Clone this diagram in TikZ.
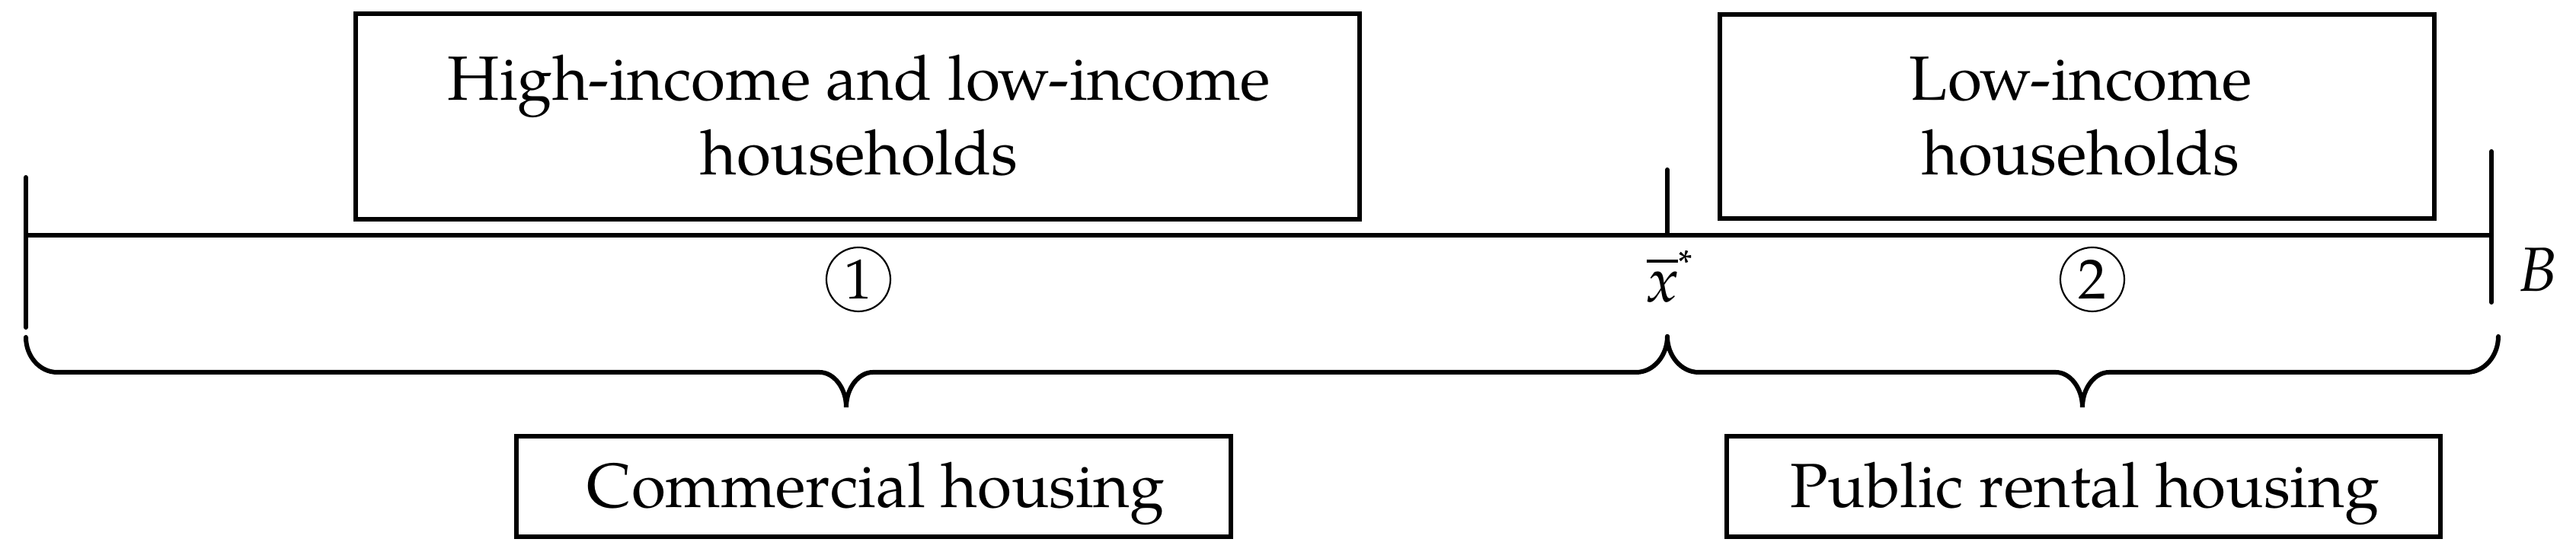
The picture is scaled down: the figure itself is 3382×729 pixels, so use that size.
\documentclass[tikz,border=0pt]{standalone}
\usepackage{fontspec}
\setmainfont{TeX Gyre Pagella}
\begin{document}
\begin{tikzpicture}[x=0.1pt,y=-0.1pt,
  boxnode/.style={draw,line width=0.6pt,inner sep=0pt},
  txt/.style={anchor=base,inner sep=0pt,font=\fontsize{8.2pt}{9.8pt}\selectfont},
  circnum/.style={draw,circle,line width=0.22pt,inner sep=0pt,minimum size=8.4pt,font=\fontsize{7.4pt}{8pt}\selectfont},
  axis/.style={line width=0.6pt,line cap=round},
  bracepath/.style={line width=0.6pt,line cap=round}]
\useasboundingbox (0,0) rectangle (3382,729);
% boxes
\node[boxnode,minimum width=131.8pt,minimum height=27pt] (hh) at (1126,153) {};
\node[txt] (hht1) at (1128,132) {High-income and low-income};
\node[txt] (hht2) at (1128,230) {households};
\node[boxnode,minimum width=93.8pt,minimum height=26.8pt] (lh) at (2727,153) {};
\node[txt] (lht1) at (2732,132) {Low-income};
\node[txt] (lht2) at (2732,230) {households};
\node[boxnode,minimum width=93.8pt,minimum height=13.2pt] (ch) at (1147,639) {};
\node[txt] (cht) at (1150,667) {Commercial housing};
\node[boxnode,minimum width=93.7pt,minimum height=13.2pt] (ph) at (2735.5,639) {};
\node[txt] (pht) at (2737,667) {Public rental housing};
% axis
\coordinate (L) at (34,309);
\coordinate (M) at (2189,309);
\coordinate (R) at (3271,309);
\coordinate (Ltop) at (34,233);
\coordinate (Lbot) at (34,430);
\coordinate (Mtop) at (2189,223);
\coordinate (Rtop) at (3271,199);
\coordinate (Rbot) at (3271,397);
\draw[axis] (L) -- (R);
\draw[axis] (Ltop) -- (Lbot);
\draw[axis] (Mtop) -- (M);
\draw[axis] (Rtop) -- (Rbot);
% labels
\node[circnum] (c1) at (1127,367) {1};
\node[circnum] (c2) at (2747,367) {2};
\node[txt,anchor=base west] (xs) at (2160,397) {$\overline{\hbox{\textit{x}}}^{\hbox{\fontsize{4.8pt}{5pt}\selectfont *}}$};
\node[txt,anchor=base west] (bl) at (3305,383) {\textit{B}};
% braces
\coordinate (b1s) at (34,443);
\coordinate (bj) at (2189,442);
\coordinate (b2e) at (3280,442);
\coordinate (t1) at (1111,535);
\coordinate (t2) at (2734,535);
\draw[bracepath] (b1s) .. controls (34,468) and (52,489) .. (75,489) -- (1076,489)
  .. controls (1095,489) and (1111,510) .. (t1)
  .. controls (1111,510) and (1127,489) .. (1146,489) -- (2148,489)
  .. controls (2171,489) and (2189,467) .. (bj);
\draw[bracepath] (bj) .. controls (2189,467) and (2207,489) .. (2230,489) -- (2699,489)
  .. controls (2718,489) and (2734,510) .. (t2)
  .. controls (2734,510) and (2750,489) .. (2769,489) -- (3239,489)
  .. controls (3262,489) and (3280,467) .. (b2e);
\end{tikzpicture}
\end{document}
